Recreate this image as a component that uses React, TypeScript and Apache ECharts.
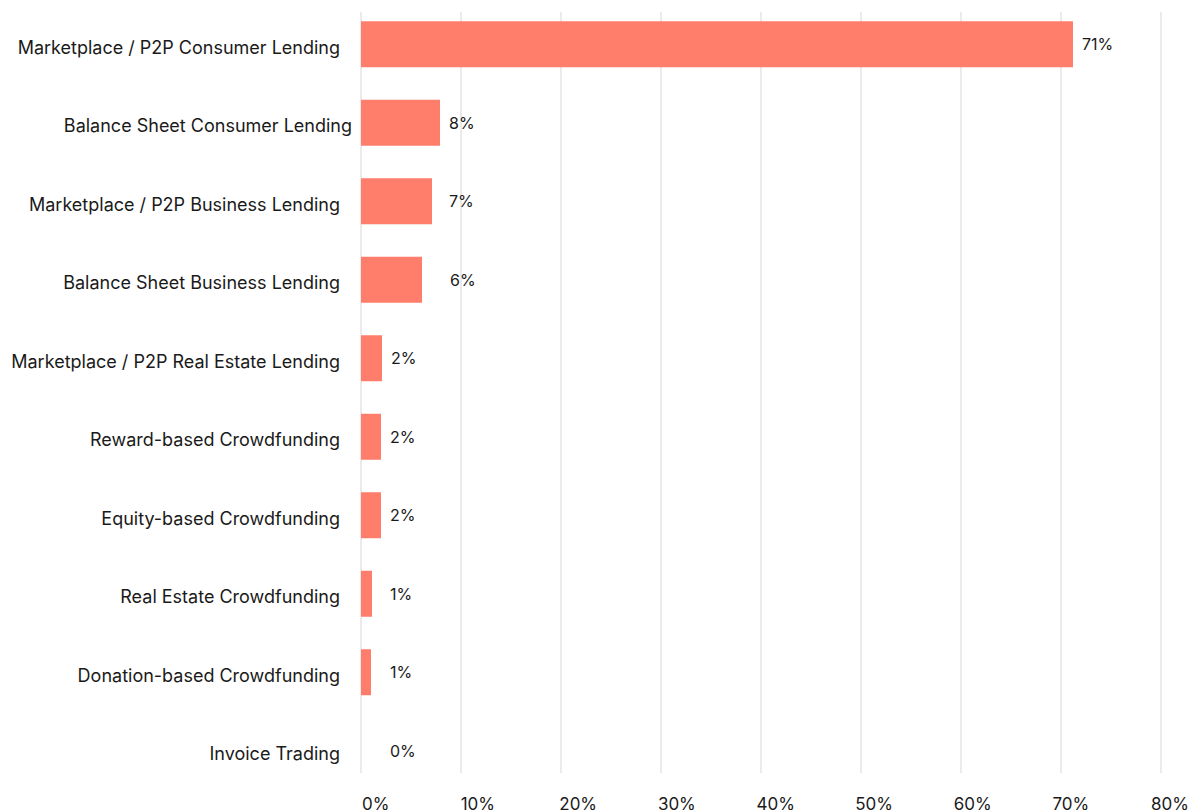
import React, { useEffect, useRef } from "react";
import * as echarts from "echarts";

const categories = [
  "Marketplace / P2P Consumer Lending",
  "Balance Sheet Consumer Lending",
  "Marketplace / P2P Business Lending",
  "Balance Sheet Business Lending",
  "Marketplace / P2P Real Estate Lending",
  "Reward-based Crowdfunding",
  "Equity-based Crowdfunding",
  "Real Estate Crowdfunding",
  "Donation-based Crowdfunding",
  "Invoice Trading",
];
const shares = [71.2, 7.9, 7.1, 6.1, 2.1, 2.0, 2.0, 1.1, 1.0, 0];
const xTicks = [0, 10, 20, 30, 40, 50, 60, 70, 80];
const labelShift = [0, 0, 8, 19, 0, 0, 0, 9, 10, 20];

const FONT = "Inter, 'Noto Sans', sans-serif";
const INK = "#1a1a1a";

export default function App() {
  const ref = useRef<HTMLDivElement>(null);
  useEffect(() => {
    if (!ref.current) return;
    const chart = echarts.init(ref.current, undefined, { renderer: "svg" });
    const xMin = xTicks[0];
    const xMax = xTicks[xTicks.length - 1];
    const step = xTicks[1] - xTicks[0];
    chart.setOption({
      animation: false,
      backgroundColor: "#ffffff",
      textStyle: { fontFamily: FONT },
      grid: [
        { left: 361, right: 31, top: 5, height: 785, containLabel: false },
        { left: 361, right: 31, top: 12, bottom: 39, containLabel: false },
        { left: 362, right: 40, top: 12, bottom: 39, containLabel: false },
      ],
      xAxis: [
        {
          gridIndex: 0, type: "value", min: xMin, max: xMax, interval: step,
          axisLine: { show: false }, axisTick: { show: false },
          axisLabel: { show: false }, splitLine: { show: false },
        },
        {
          gridIndex: 1, type: "value", min: xMin, max: xMax, interval: step,
          axisLine: { show: false }, axisTick: { show: false },
          axisLabel: { show: false },
          splitLine: { show: true, lineStyle: { color: "#ebebeb", width: 2 } },
        },
        {
          gridIndex: 2, type: "value", min: xMin, max: xMax, interval: step,
          axisLine: { show: false }, axisTick: { show: false },
          splitLine: { show: false },
          axisLabel: {
            show: true, margin: 22, align: "left",
            formatter: (v: number) => `${v}%`,
            fontFamily: FONT, fontSize: 17, color: INK,
          },
        },
      ],
      yAxis: [
        {
          gridIndex: 0, type: "category", data: categories, inverse: true,
          axisLine: { show: false }, axisTick: { show: false },
          splitLine: { show: false },
          axisLabel: {
            margin: 9, fontFamily: FONT, fontSize: 18, color: INK,
            formatter: (v: string) =>
              v === "Balance Sheet Consumer Lending" ? `{b|${v}}` : `{a|${v}}`,
            rich: {
              a: { fontFamily: FONT, fontSize: 18, color: INK, padding: [6, 12, 0, 0] },
              b: { fontFamily: FONT, fontSize: 18, color: INK, padding: [6, 0, 0, 0] },
            },
          },
        },
        {
          gridIndex: 1, type: "category", data: categories, show: false,
        },
        {
          gridIndex: 2, type: "category", data: categories, show: false,
        },
      ],
      series: [
        {
          type: "bar",
          xAxisIndex: 0,
          yAxisIndex: 0,
          barWidth: 46,
          itemStyle: { color: "#ff7e6b" },
          data: shares.map((v, i) => ({
            value: v,
            label: { offset: [labelShift[i], 0] },
          })),
          label: {
            show: true,
            position: "right",
            distance: 9,
            fontFamily: FONT,
            fontSize: 16,
            color: INK,
            formatter: (p: any) => `${Math.round(p.value)}%`,
          },
        },
      ],
    });
    return () => chart.dispose();
  }, []);
  return (
    <div
      ref={ref}
      style={{ position: "absolute", left: 0, top: 0, width: 1192, height: 812 }}
    />
  );
}
